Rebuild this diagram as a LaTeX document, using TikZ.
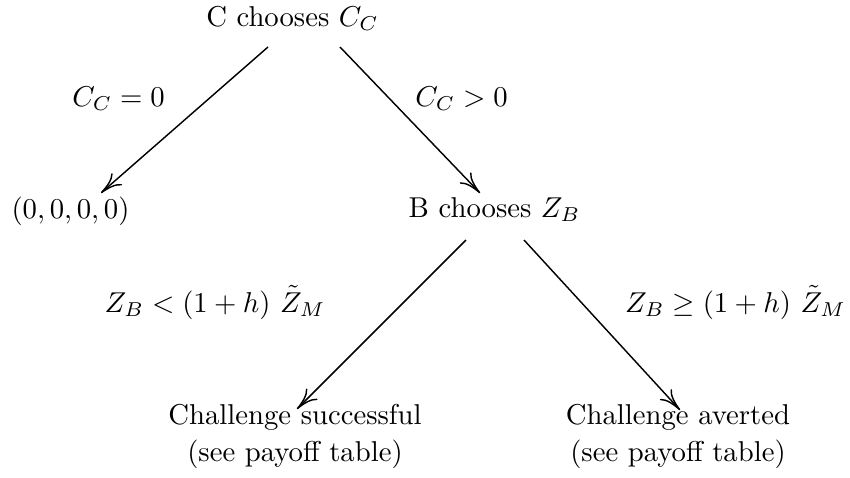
\documentclass[tikz,border=0pt]{standalone}
\usetikzlibrary{arrows.meta,calc}
\begin{document}
\begin{tikzpicture}[x=0.3484pt,y=-0.3484pt,
  lbl/.style={anchor=base,inner sep=0pt},
  arr/.style={line width=0.5pt,-{To[length=7.5pt,width=5.5pt]}}]
\useasboundingbox (0,0) rectangle (850,477);
\node[lbl] (top) at (292.5,26) {C chooses $C_C$};
\node[lbl] (zero) at (70.5,218) {$(0,0,0,0)$};
\node[lbl] (B) at (494.5,217) {B chooses $Z_B$};
\node[lbl] (succ) at (295,424) {\begin{tabular}[t]{@{}c@{}}Challenge successful\\[0.9pt](see payoff table)\end{tabular}};
\node[lbl] (avert) at (678,424) {\begin{tabular}[t]{@{}c@{}}Challenge averted\\[0.9pt](see payoff table)\end{tabular}};
\node[lbl] (l1) at (118.5,106) {$C_C = 0$};
\node[lbl] (l2) at (461.5,106) {$C_C > 0$};
\node[lbl] (l3) at (215,312) {$Z_B < (1+h)\ \tilde{Z}_M$};
\node[lbl] (l4) at (735.5,312) {$Z_B \geq (1+h)\ \tilde{Z}_M$};
\draw[arr] ($(top.base)+(-24.5,21)$) -- ($(zero.base)+(30.5,-25)$);
\draw[arr] ($(top.base)+(47.5,21)$) -- ($(B.base)+(-14.5,-24)$);
\draw[arr] ($(B.base)+(-28.5,23)$) -- ($(succ.base)+(2,-15)$);
\draw[arr] ($(B.base)+(29.5,23)$) -- ($(avert.base)+(2,-14)$);
\end{tikzpicture}
\end{document}
